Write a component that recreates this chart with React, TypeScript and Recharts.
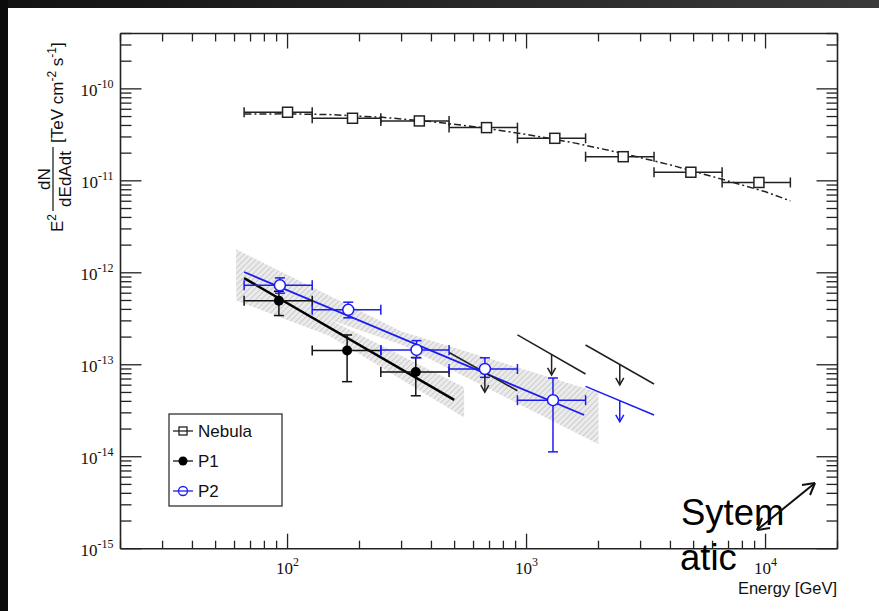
import React from "react";
import { ComposedChart, XAxis, YAxis, Line, Scatter, Area, ErrorBar } from "recharts";

// energy bins (GeV), shared by all three data sets
const binEdges = [65.8, 126.8, 245.6, 474, 916, 1766, 3415, 6580, 12700];

// Nebula
const nebulaE = [100, 187, 356, 680, 1313, 2537, 4870, 9380];
const nebulaF = [5.57e-11, 4.79e-11, 4.48e-11, 3.79e-11, 2.9e-11, 1.83e-11, 1.24e-11, 9.6e-12];
const nebulaFitE = [66, 100, 150, 250, 400, 650, 1000, 1600, 2500, 4000, 6500, 10000, 12700];
const nebulaFitF = [5.33e-11, 5.35e-11, 5.25e-11, 4.9e-11, 4.41e-11, 3.79e-11, 3.2e-11, 2.57e-11, 2.0e-11, 1.49e-11, 1.05e-11, 7.6e-12, 6.05e-12];

// P1
const p1E = [92, 177.5, 344];
const p1F = [4.96e-13, 1.43e-13, 8.34e-14];
const p1Hi = [6.3e-13, 2.11e-13, 1.2e-13];
const p1Lo = [3.43e-13, 6.55e-14, 4.6e-14];
const p1FitE = [65.8, 498];
const p1FitF = [8.75e-13, 4.16e-14];
const p1BandE = [61, 150, 548];
const p1BandLo = [5.0e-13, 2.05e-13, 2.67e-14];
const p1BandHi = [1.6e-12, 3.1e-13, 5.7e-14];
// upper limits: bin index, flux at bin edges, flux at arrow
const p1UlBins = [3, 4, 5];
const p1UlStart = [1.36e-13, 2.11e-13, 1.64e-13];
const p1UlEnd = [5.22e-14, 7.94e-14, 6.18e-14];
const p1UlE = [669, 1273, 2455];
const p1UlF = [8.53e-14, 1.31e-13, 1.02e-13];

// P2
const p2E = [92.9, 179.5, 346.5, 669.5, 1290];
const p2F = [7.3e-13, 3.96e-13, 1.45e-13, 9.0e-14, 4.12e-14];
const p2Hi = [8.8e-13, 4.79e-13, 1.83e-13, 1.19e-13, 7.18e-14];
const p2Lo = [6.0e-13, 3.24e-13, 1.19e-13, 7.3e-14, 1.13e-14];
const p2FitE = [65.8, 1742];
const p2FitF = [1.02e-12, 2.84e-14];
const p2BandE = [61, 300, 2000];
const p2BandLo = [7.0e-13, 1.65e-13, 1.37e-14];
const p2BandHi = [1.8e-12, 2.3e-13, 5.0e-14];
const p2UlBins = [5];
const p2UlStart = [5.82e-14];
const p2UlEnd = [2.84e-14];
const p2UlE = [2455];
const p2UlF = [4.06e-14];

const xTicks = [
  20, 30, 40, 50, 60, 70, 80, 90,
  100, 200, 300, 400, 500, 600, 700, 800, 900,
  1000, 2000, 3000, 4000, 5000, 6000, 7000, 8000, 9000,
  10000, 20000,
];
const yTicks = [
  1e-15, 2e-15, 3e-15, 4e-15, 5e-15, 6e-15, 7e-15, 8e-15, 9e-15,
  1e-14, 2e-14, 3e-14, 4e-14, 5e-14, 6e-14, 7e-14, 8e-14, 9e-14,
  1e-13, 2e-13, 3e-13, 4e-13, 5e-13, 6e-13, 7e-13, 8e-13, 9e-13,
  1e-12, 2e-12, 3e-12, 4e-12, 5e-12, 6e-12, 7e-12, 8e-12, 9e-12,
  1e-11, 2e-11, 3e-11, 4e-11, 5e-11, 6e-11, 7e-11, 8e-11, 9e-11,
  1e-10, 2e-10, 3e-10, 4e-10,
];

const BLUE = "#1c1cf2";
const SERIF = "'Liberation Serif', 'DejaVu Serif', serif";
const SANS = "'Liberation Sans', Arial, sans-serif";

const nebulaData = nebulaE.map((e, i) => ({ e, f: nebulaF[i], ex: [e - binEdges[i], binEdges[i + 1] - e] }));
const nebulaFit = nebulaFitE.map((e, i) => ({ e, f: nebulaFitF[i] }));

const pointData = (E: number[], F: number[], hi: number[], lo: number[]) =>
  E.map((e, i) => ({
    e,
    f: F[i],
    ex: [e - binEdges[i], binEdges[i + 1] - e],
    ey: [F[i] - lo[i], hi[i] - F[i]],
  }));
const p1Data = pointData(p1E, p1F, p1Hi, p1Lo);
const p2Data = pointData(p2E, p2F, p2Hi, p2Lo);

const line2 = (E: number[], F: number[]) => E.map((e, i) => ({ e, f: F[i] }));
const band = (E: number[], lo: number[], hi: number[]) => E.map((e, i) => ({ e, range: [lo[i], hi[i]] }));
const ulSegments = (bins: number[], start: number[], end: number[]) =>
  bins.map((b, i) => [
    { e: binEdges[b], f: start[i] },
    { e: binEdges[b + 1], f: end[i] },
  ]);
const ulPoints = (E: number[], F: number[]) => E.map((e, i) => ({ e, f: F[i] }));

const isMajor = (v: number) => Math.abs(Math.log10(v) - Math.round(Math.log10(v))) < 1e-6;

// ROOT style ticks: pointing into the frame, labels only on decades
const makeTick = (side: "bottom" | "top" | "left" | "right") => (props: any) => {
  const { x, y, payload } = props;
  const v = payload.value;
  const major = isMajor(v);
  const exp = Math.round(Math.log10(v));
  if (side === "bottom" || side === "top") {
    const len = major ? 15 : 8;
    const dir = side === "bottom" ? -1 : 1;
    return (
      <g>
        <line x1={x} y1={y} x2={x} y2={y + dir * len} stroke="#222" strokeWidth={1.3} />
        {side === "bottom" && major && (
          <text x={x} y={y + 25.5} textAnchor="middle" fontFamily={SERIF} fontSize={17} fill="#111">
            10<tspan dy={-8} fontSize={12}>{exp}</tspan>
          </text>
        )}
      </g>
    );
  }
  const len = major ? 21 : 11;
  const dir = side === "left" ? 1 : -1;
  return (
    <g>
      <line x1={x} y1={y} x2={x + dir * len} y2={y} stroke="#222" strokeWidth={1.3} />
      {side === "left" && major && (
        <text x={x - 7} y={y + 7} textAnchor="end" fontFamily={SERIF} fontSize={17} fill="#111">
          10<tspan dy={-8} fontSize={12}>{exp}</tspan>
        </text>
      )}
    </g>
  );
};

const squareShape = (p: any) => (
  <rect x={p.cx - 5} y={p.cy - 5} width={10} height={10} fill="#fff" stroke="#222" strokeWidth={1.5} />
);
const dotShape = (p: any) => <circle cx={p.cx} cy={p.cy} r={5} fill="#000" />;
const ringShape = (p: any) => <circle cx={p.cx} cy={p.cy} r={5.5} fill="#fff" stroke={BLUE} strokeWidth={1.5} />;
const arrowShape = (color: string) => (p: any) => (
  <g>
    <line x1={p.cx} y1={p.cy} x2={p.cx} y2={p.cy + 21} stroke={color} strokeWidth={1.5} />
    <path
      d={`M${p.cx - 4},${p.cy + 14} L${p.cx},${p.cy + 21} L${p.cx + 4},${p.cy + 14}`}
      fill="none"
      stroke={color}
      strokeWidth={1.5}
    />
  </g>
);

const axisLine = { stroke: "#222", strokeWidth: 1.6 };

export default function App() {
  const W = 879;
  const H = 611;
  return (
    <div style={{ position: "absolute", left: 0, top: 0, width: W, height: H, background: "#fff", overflow: "hidden" }}>
      <ComposedChart width={W} height={H} margin={{ top: 32.5, right: 40.5, bottom: 61.3, left: 119.5 }}>
        <XAxis
          dataKey="e"
          type="number"
          scale="log"
          domain={[20, 20000]}
          allowDataOverflow
          ticks={xTicks}
          interval={0}
          height={1}
          tickLine={false}
          tickSize={0}
          tickMargin={0}
          axisLine={axisLine}
          tick={makeTick("bottom")}
        />
        <XAxis
          xAxisId="top"
          orientation="top"
          dataKey="e"
          type="number"
          scale="log"
          domain={[20, 20000]}
          allowDataOverflow
          ticks={xTicks}
          interval={0}
          height={1}
          tickLine={false}
          tickSize={0}
          tickMargin={0}
          axisLine={axisLine}
          tick={makeTick("top")}
        />
        <YAxis
          dataKey="f"
          type="number"
          scale="log"
          domain={[1e-15, 4e-10]}
          allowDataOverflow
          ticks={yTicks}
          interval={0}
          width={1}
          tickLine={false}
          tickSize={0}
          tickMargin={0}
          axisLine={axisLine}
          tick={makeTick("left")}
        />
        <YAxis
          yAxisId="right"
          orientation="right"
          dataKey="f"
          type="number"
          scale="log"
          domain={[1e-15, 4e-10]}
          allowDataOverflow
          ticks={yTicks}
          interval={0}
          width={1}
          tickLine={false}
          tickSize={0}
          tickMargin={0}
          axisLine={axisLine}
          tick={makeTick("right")}
        />

        <Area data={band(p2BandE, p2BandLo, p2BandHi)} dataKey="range" type="linear" stroke="none" fill="url(#hatch)" fillOpacity={1} isAnimationActive={false} />
        <Area data={band(p1BandE, p1BandLo, p1BandHi)} dataKey="range" type="linear" stroke="none" fill="url(#hatch)" fillOpacity={1} isAnimationActive={false} />

        <Line data={nebulaFit} dataKey="f" type="linear" stroke="#222" strokeWidth={1.5} strokeDasharray="7 3 2 3" dot={false} activeDot={false} isAnimationActive={false} />
        <Line data={line2(p1FitE, p1FitF)} dataKey="f" type="linear" stroke="#000" strokeWidth={2.5} dot={false} activeDot={false} isAnimationActive={false} />
        <Line data={line2(p2FitE, p2FitF)} dataKey="f" type="linear" stroke={BLUE} strokeWidth={1.8} dot={false} activeDot={false} isAnimationActive={false} />

        {ulSegments(p1UlBins, p1UlStart, p1UlEnd).map((seg, i) => (
          <Line key={`p1ul-${i}`} data={seg} dataKey="f" type="linear" stroke="#222" strokeWidth={1.5} dot={false} activeDot={false} isAnimationActive={false} />
        ))}
        {ulSegments(p2UlBins, p2UlStart, p2UlEnd).map((seg, i) => (
          <Line key={`p2ul-${i}`} data={seg} dataKey="f" type="linear" stroke={BLUE} strokeWidth={1.5} dot={false} activeDot={false} isAnimationActive={false} />
        ))}
        <Scatter data={ulPoints(p1UlE, p1UlF)} dataKey="f" shape={arrowShape("#222")} isAnimationActive={false} />
        <Scatter data={ulPoints(p2UlE, p2UlF)} dataKey="f" shape={arrowShape(BLUE)} isAnimationActive={false} />

        <Scatter data={nebulaData} dataKey="f" shape={squareShape} isAnimationActive={false}>
          <ErrorBar dataKey="ex" direction="x" width={5} stroke="#222" strokeWidth={1.5} />
        </Scatter>
        <Scatter data={p1Data} dataKey="f" shape={dotShape} isAnimationActive={false}>
          <ErrorBar dataKey="ex" direction="x" width={5} stroke="#111" strokeWidth={1.5} />
          <ErrorBar dataKey="ey" direction="y" width={5} stroke="#111" strokeWidth={1.5} />
        </Scatter>
        <Scatter data={p2Data} dataKey="f" shape={ringShape} isAnimationActive={false}>
          <ErrorBar dataKey="ex" direction="x" width={5} stroke={BLUE} strokeWidth={1.5} />
          <ErrorBar dataKey="ey" direction="y" width={5} stroke={BLUE} strokeWidth={1.5} />
        </Scatter>
      </ComposedChart>

      <svg width={W} height={H} style={{ position: "absolute", left: 0, top: 0, pointerEvents: "none" }}>
        <defs>
          <pattern id="hatch" width={4} height={4} patternUnits="userSpaceOnUse" patternTransform="rotate(45)">
            <rect width={4} height={4} fill="#ebebeb" />
            <line x1={0} y1={0} x2={0} y2={4} stroke="#c2c2c2" strokeWidth={1.5} />
          </pattern>
        </defs>

        {/* y axis title */}
        <g transform="translate(63,232) rotate(-90)" fontFamily={SANS} fill="#111">
          <text x={0} y={0} fontSize={17}>
            E<tspan dy={-7} fontSize={12}>2</tspan>
          </text>
          <text x={53} y={-13} textAnchor="middle" fontSize={17}>dN</text>
          <line x1={21} x2={85} y1={-10} y2={-10} stroke="#111" strokeWidth={1.2} />
          <text x={53} y={8} textAnchor="middle" fontSize={17}>dEdAdt</text>
          <text x={89} y={0} fontSize={17}>
            [TeV cm<tspan dy={-7} fontSize={12}>-2</tspan>
            <tspan dy={7}> s</tspan>
            <tspan dy={-7} fontSize={12}>-1</tspan>
            <tspan dy={7}>]</tspan>
          </text>
        </g>

        {/* x axis title */}
        <text x={837} y={594} textAnchor="end" fontFamily={SANS} fontSize={16.5} fill="#111">
          Energy [GeV]
        </text>

        {/* legend */}
        <g fontFamily={SANS} fontSize={17} fill="#111">
          <rect x={169} y={414} width={113} height={92} fill="#fff" stroke="#333" strokeWidth={1.3} />
          <line x1={173} x2={193} y1={431} y2={431} stroke="#222" strokeWidth={1.3} />
          <rect x={179} y={427} width={8} height={8} fill="none" stroke="#222" strokeWidth={1.3} />
          <text x={198} y={437}>Nebula</text>
          <line x1={173} x2={193} y1={461} y2={461} stroke="#111" strokeWidth={1.3} />
          <circle cx={183} cy={461} r={4.5} fill="#000" />
          <text x={198} y={467}>P1</text>
          <line x1={173} x2={193} y1={491} y2={491} stroke={BLUE} strokeWidth={1.3} />
          <circle cx={183} cy={491} r={4.5} fill="none" stroke={BLUE} strokeWidth={1.3} />
          <text x={198} y={497}>P2</text>
        </g>

        {/* annotation */}
        <text x={681} y={525} fontFamily={SANS} fontSize={36.5} fill="#000">Sytem</text>
        <text x={680} y={570} fontFamily={SANS} fontSize={36.5} fill="#000">atic</text>
        <g stroke="#111" strokeWidth={2} fill="none">
          <line x1={757} y1={530} x2={815} y2={483} />
          <path d="M815,483 L802,485 M815,483 L810,495" />
          <path d="M757,530 L770,528 M757,530 L762,518" />
        </g>
      </svg>

      {/* screenshot edges */}
      <div style={{ position: "absolute", left: 0, top: 0, width: W, height: 8, background: "linear-gradient(90deg, #121212, #3a3a3a)" }} />
      <div style={{ position: "absolute", left: 0, top: 0, width: 8, height: H, background: "#0b0b0b" }} />
    </div>
  );
}
